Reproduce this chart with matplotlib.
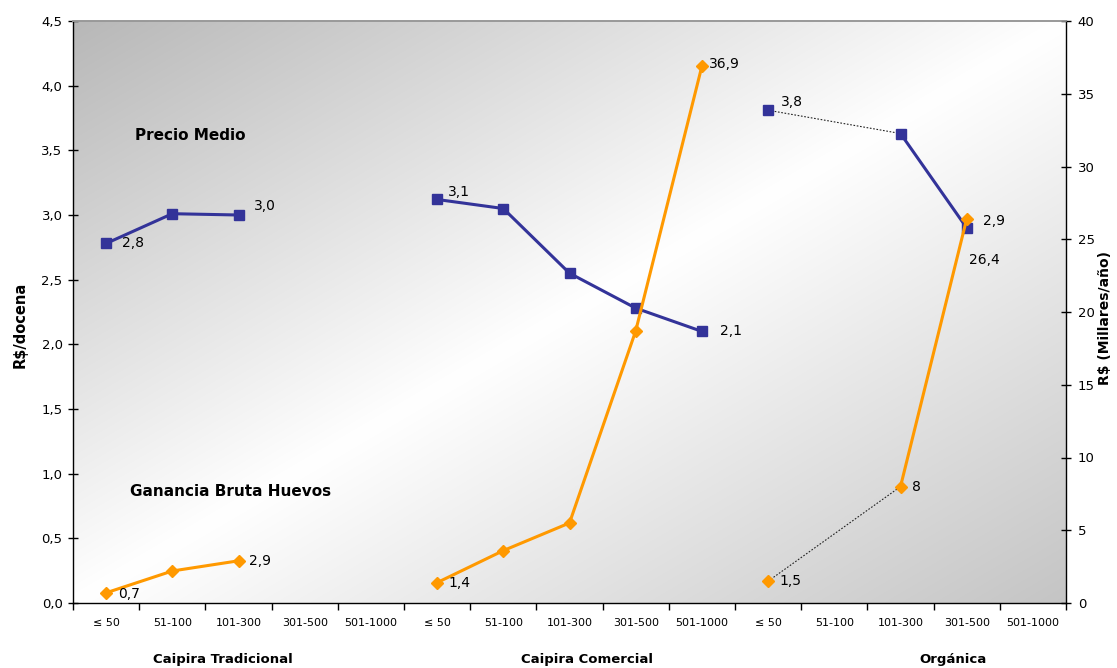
import numpy as np
import matplotlib
matplotlib.use("Agg")
import matplotlib.pyplot as plt
from matplotlib.ticker import FixedLocator, NullFormatter

plt.rcParams["font.family"] = ["DejaVu Sans"]

# ---- data -------------------------------------------------------------
categories = ["≤ 50", "51-100", "101-300", "301-500", "501-1000"]
groups = ["Caipira Tradicional", "Caipira Comercial", "Orgánica"]

# Precio medio (R$/docena) per flock-size class; None = no data
precio_tradicional = [2.78, 3.01, 3.00, None, None]
precio_comercial = [3.12, 3.05, 2.55, 2.28, 2.10]
precio_organica = [3.81, None, 3.63, 2.90, None]

# Ganancia bruta huevos (miles de R$/año)
ganancia_tradicional = [0.7, 2.2, 2.9, None, None]
ganancia_comercial = [1.4, 3.6, 5.5, 18.7, 36.9]
ganancia_organica = [1.5, None, 8.0, 26.4, None]

# ---- styling -----------------------------------------------------------
BLUE = "#333399"
ORANGE = "#FF9900"

fig = plt.figure(figsize=(11.17, 6.68), dpi=100)
ax = fig.add_axes([73 / 1117, 1 - 603 / 668, 993 / 1117, 582 / 668])
ax2 = ax.twinx()

n = len(categories) * len(groups)
ax.set_xlim(-0.5, n - 0.5)
ax.set_ylim(0, 4.5)
ax2.set_ylim(0, 40)

# diagonal gradient fill of the plot area
h, w = 300, 500
yy, xx = np.mgrid[0:h, 0:w]
t = (xx / (w - 1) + yy / (h - 1)) / 2.0
c_tl, c_br = 0.72, 0.77
shade = np.where(t < 0.5, c_tl + (1 - c_tl) * (t / 0.5), 1 - (1 - c_br) * ((t - 0.5) / 0.5))
img = np.dstack([shade, shade, shade])
ax.imshow(img, extent=[0, 1, 0, 1], transform=ax.transAxes, aspect="auto",
          zorder=0, interpolation="bilinear")


def segments(values, offset):
    """Split a group's series into runs of consecutive valid points."""
    runs, cur = [], []
    for i, v in enumerate(values):
        if v is None:
            if cur:
                runs.append(cur)
            cur = []
        else:
            cur.append((offset + i, v))
    if cur:
        runs.append(cur)
    return runs


def draw_series(axis, group_values, color, marker, ms):
    for g, vals in enumerate(group_values):
        for run in segments(vals, g * len(categories)):
            xs = [p[0] for p in run]
            ys = [p[1] for p in run]
            axis.plot(xs, ys, color=color, lw=2.2, marker=marker, ms=ms,
                      mec=color, mfc=color, zorder=3, clip_on=False)


precio = [precio_tradicional, precio_comercial, precio_organica]
ganancia = [ganancia_tradicional, ganancia_comercial, ganancia_organica]

# thin dotted links across the missing Orgánica 51-100 class
org0 = 2 * len(categories)
ax.plot([org0, org0 + 2], [precio_organica[0], precio_organica[2]],
        color="#222222", lw=0.8, ls=(0, (1.5, 1.5)), zorder=2)
ax2.plot([org0, org0 + 2], [ganancia_organica[0], ganancia_organica[2]],
         color="#222222", lw=0.8, ls=(0, (1.5, 1.5)), zorder=2)

draw_series(ax, precio, BLUE, "s", 7)
draw_series(ax2, ganancia, ORANGE, "D", 5.8)


def fmt(v):
    if float(v).is_integer() and v > 5:
        return f"{v:g}"
    return f"{v:.1f}".replace(".", ",")


# data labels: (group, class index, pixel offset)
precio_labels = [(0, 0, (16, 0)), (0, 2, (15, 9)), (1, 0, (11, 7)),
                 (1, 4, (18, 0)), (2, 0, (13, 8)), (2, 3, (16, 7))]
ganancia_labels = [(0, 0, (12, -1)), (0, 2, (11, 0)), (1, 0, (11, 0)),
                   (1, 4, (7, 2)), (2, 0, (11, 0)), (2, 2, (11, 0)), (2, 3, (2, -41))]

LABEL_FS = 10
for g, i, off in precio_labels:
    v = precio[g][i]
    ax.annotate(fmt(v), (g * len(categories) + i, v), xytext=off,
                textcoords="offset pixels", ha="left", va="center",
                fontsize=LABEL_FS, zorder=5, annotation_clip=False)
for g, i, off in ganancia_labels:
    v = ganancia[g][i]
    ax2.annotate(fmt(v), (g * len(categories) + i, v), xytext=off,
                 textcoords="offset pixels", ha="left", va="center",
                 fontsize=LABEL_FS, zorder=5, annotation_clip=False)

# ---- axes ---------------------------------------------------------------
ax.set_yticks(np.arange(0, 4.51, 0.5))
ax.set_yticklabels([f"{v:.1f}".replace(".", ",") for v in np.arange(0, 4.51, 0.5)])
ax2.set_yticks(np.arange(0, 41, 5))
ax2.set_yticklabels([str(v) for v in range(0, 41, 5)])

ax.xaxis.set_major_locator(FixedLocator(np.arange(-0.5, n, 1.0)))
ax.xaxis.set_major_formatter(NullFormatter())
ax.xaxis.set_minor_locator(FixedLocator(np.arange(n)))
ax.set_xticklabels(categories * len(groups), minor=True)
ax.tick_params(axis="x", which="major", direction="out", length=5, width=1)
ax.tick_params(axis="x", which="minor", length=0, pad=11, labelsize=8)
ax.tick_params(axis="y", direction="inout", length=7, width=1, labelsize=9.5, pad=4)
ax2.tick_params(axis="y", direction="inout", length=7, width=1, labelsize=9.5, pad=5)

for a in (ax, ax2):
    a.spines["top"].set_color("#999999")
    a.spines["top"].set_linewidth(1.2)
ax.spines["right"].set_visible(False)
ax2.spines["left"].set_visible(False)
ax2.spines["bottom"].set_visible(False)
ax.spines["left"].set_linewidth(1)
ax.spines["bottom"].set_linewidth(1)
ax2.spines["right"].set_linewidth(1)

fig.text(20 / 1117, 1 - 325 / 668, "R$/docena", rotation=90, ha="center", va="center",
         fontsize=10.5, fontweight="bold")
fig.text(1105 / 1117, 1 - 318 / 668, "R$ (Millares/año)", rotation=90, ha="center",
         va="center", fontsize=10, fontweight="bold")

fig.text(190 / 1117, 1 - 135 / 668, "Precio Medio", ha="center", va="center",
         fontsize=11, fontweight="bold")
fig.text(231 / 1117, 1 - 492 / 668, "Ganancia Bruta Huevos", ha="center", va="center",
         fontsize=11, fontweight="bold")

for x, name in zip([223, 587, 953], groups):
    fig.text(x / 1117, 1 - 660 / 668, name, ha="center", va="center",
             fontsize=9.5, fontweight="bold")

fig.savefig("out.png", dpi=100)
